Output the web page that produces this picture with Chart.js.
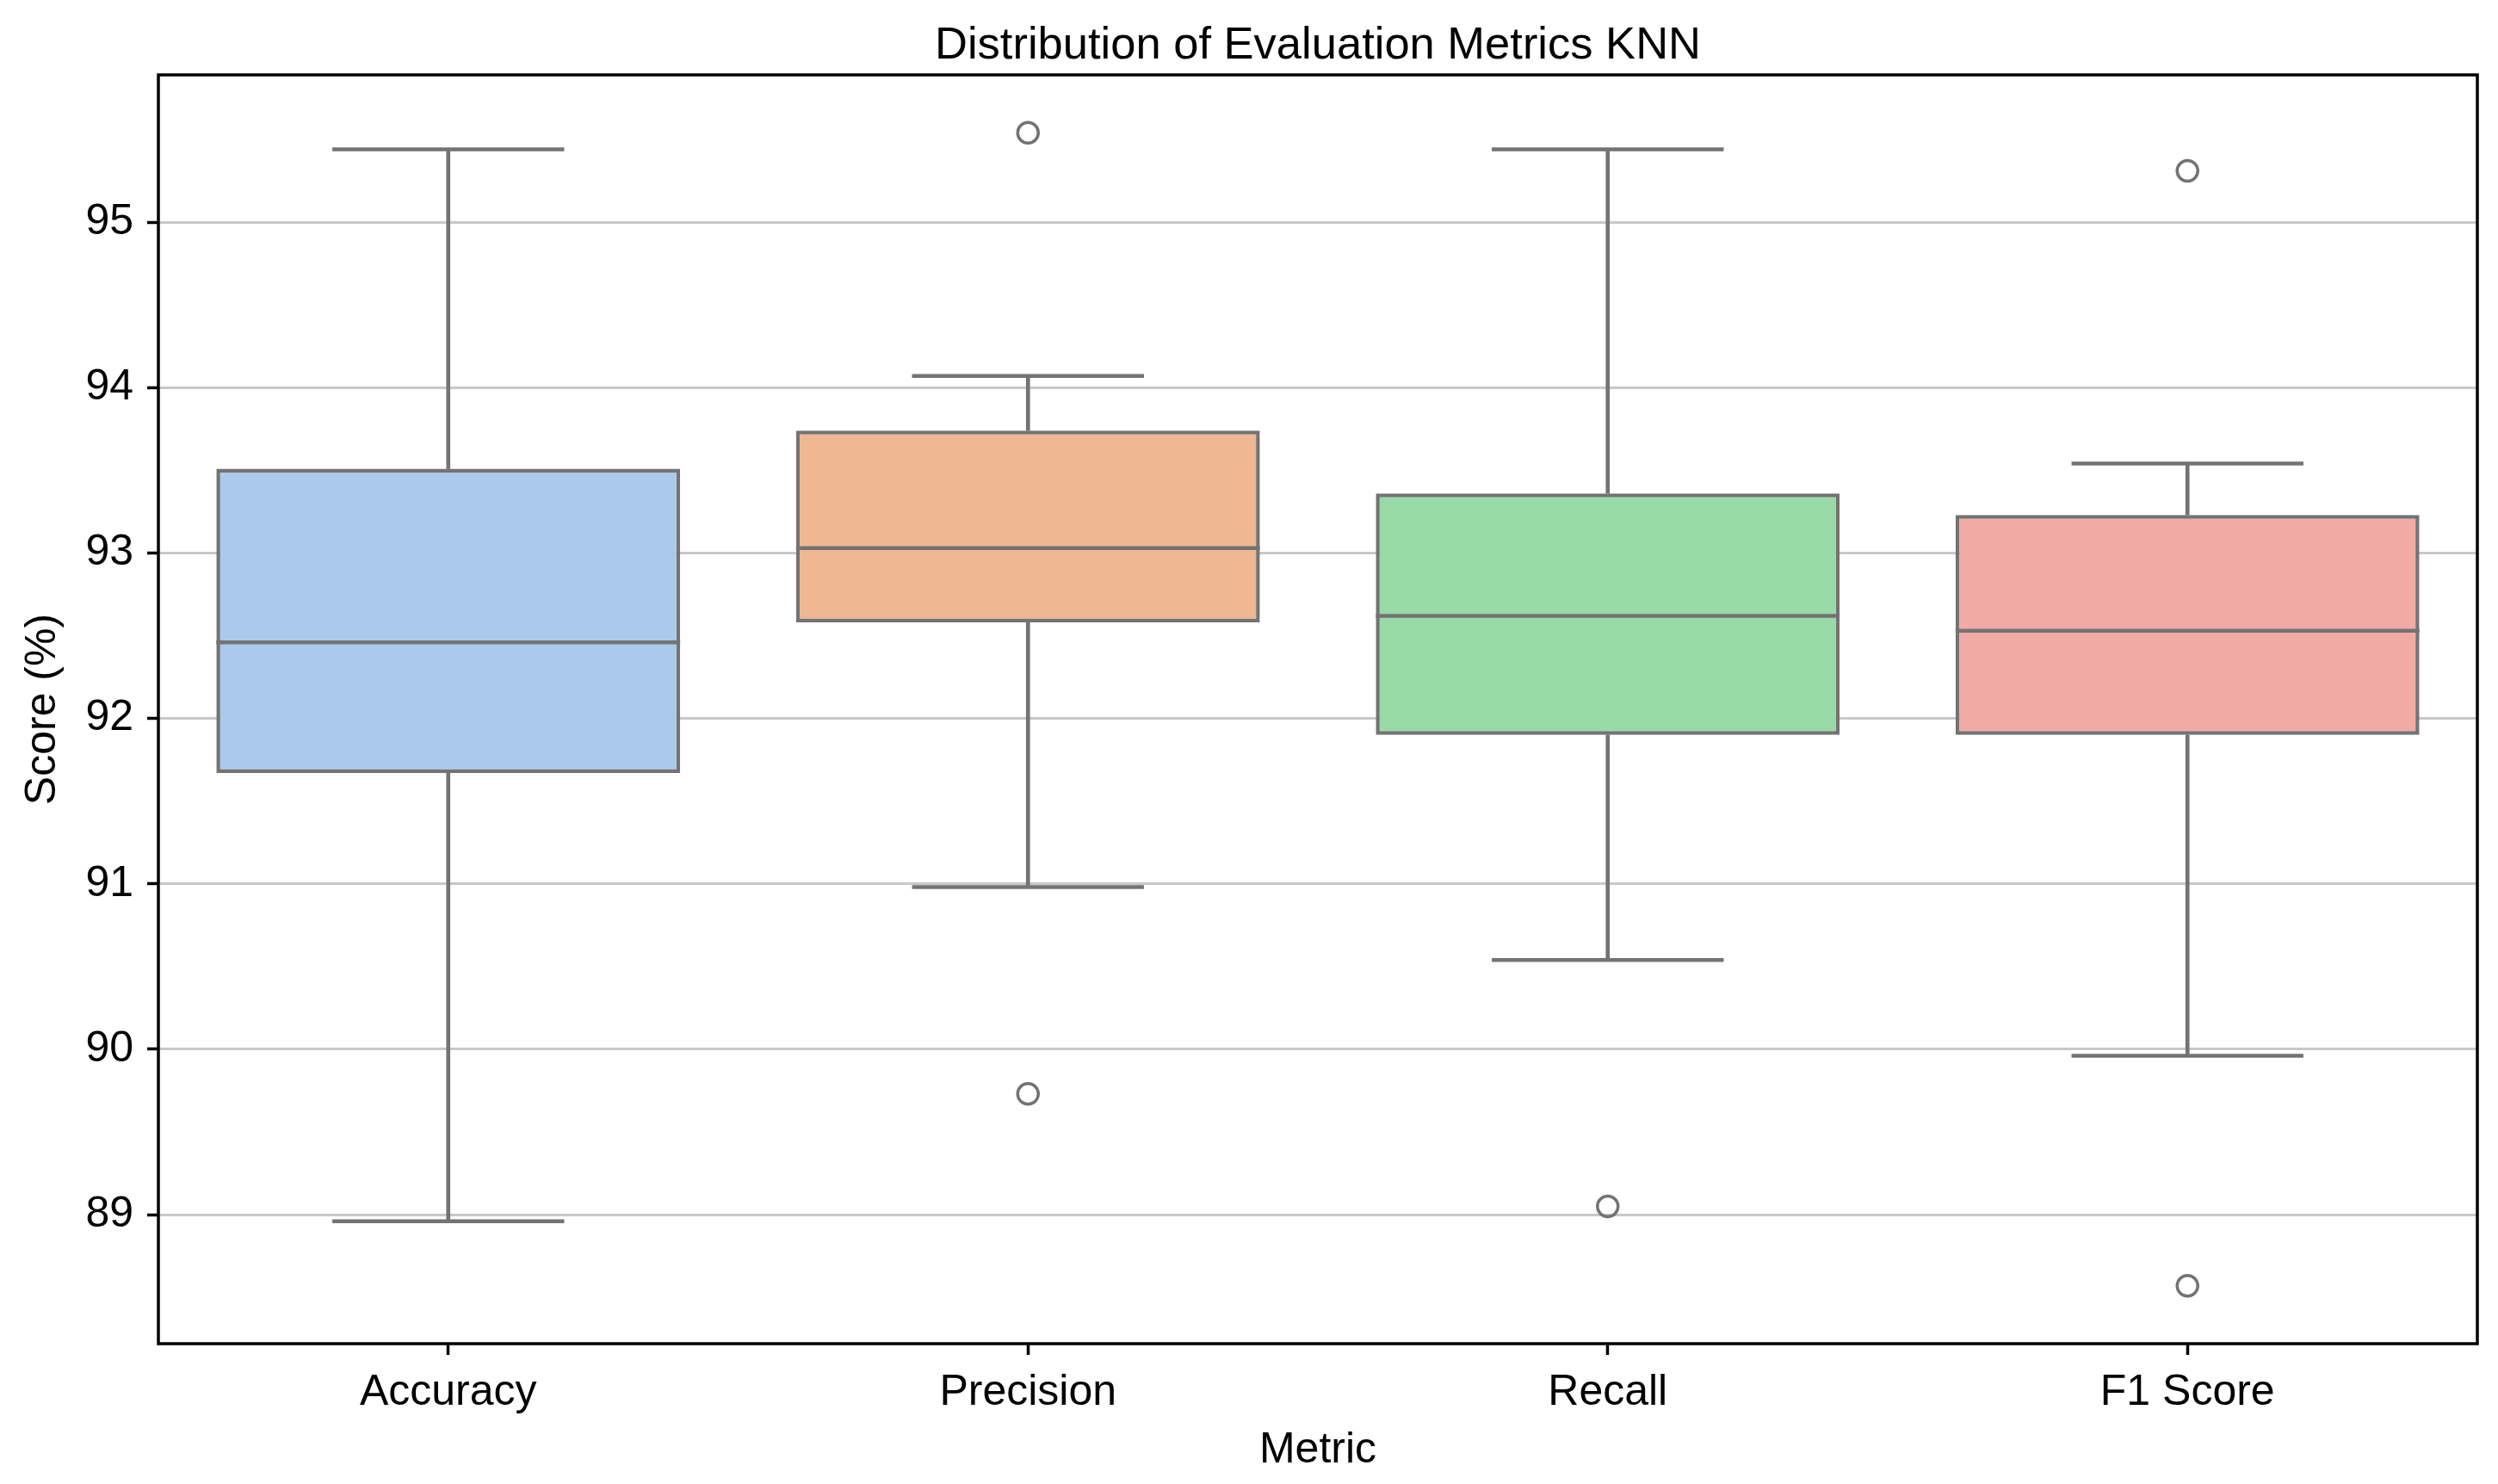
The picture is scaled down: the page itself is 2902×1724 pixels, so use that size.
<!DOCTYPE html>
<html>
<head>
<meta charset="utf-8">
<script src="https://cdn.jsdelivr.net/npm/chart.js@4"></script>
<style>
  html, body { margin: 0; padding: 0; background: #ffffff; }
  canvas { display: block; }
</style>
</head>
<body>
<canvas id="c" width="2902" height="1724" style="width:2902px;height:1724px"></canvas>
<script>
// ---- data ----
const categories   = ['Accuracy', 'Precision', 'Recall', 'F1 Score'];
const whiskerLow   = [88.96, 90.98, 90.54, 89.96];
const q1           = [91.67, 92.58, 91.90, 91.90];
const medians      = [92.46, 93.03, 92.62, 92.53];
const q3           = [93.51, 93.74, 93.36, 93.23];
const whiskerHigh  = [95.44, 94.07, 95.44, 93.54];
const outlierCats  = ['Precision', 'Precision', 'Recall', 'F1 Score', 'F1 Score'];
const outlierVals  = [95.54, 89.73, 89.05, 95.31, 88.57];
const yTicks       = [89, 90, 91, 92, 93, 94, 95];
const boxColors    = ['#abc9ea', '#efb792', '#98daa7', '#f2aaa7'];

const lineGray = '#737373';
const FONT = "'Liberation Sans', Arial, Helvetica, sans-serif";

const catWidth = ctx => ctx.chart.scales.x ? ctx.chart.scales.x.width / categories.length : 0;

const framePlugin = {
  id: 'frame',
  afterDatasetsDraw(chart) {
    const a = chart.chartArea, c = chart.ctx;
    c.save();
    c.strokeStyle = '#000';
    c.lineWidth = 3.5;
    c.strokeRect(a.left, a.top, a.right - a.left, a.bottom - a.top);
    c.restore();
  }
};

new Chart(document.getElementById('c'), {
  type: 'bar',
  data: {
    labels: categories,
    datasets: [
      { // lower whisker stems
        type: 'bar', order: 3, grouped: false,
        data: categories.map((_, i) => [whiskerLow[i], q1[i]]),
        backgroundColor: lineGray, borderWidth: 0, barThickness: 4
      },
      { // upper whisker stems
        type: 'bar', order: 3, grouped: false,
        data: categories.map((_, i) => [q3[i], whiskerHigh[i]]),
        backgroundColor: lineGray, borderWidth: 0, barThickness: 4
      },
      { // IQR boxes
        type: 'bar', order: 2, grouped: false,
        data: categories.map((_, i) => [q1[i], q3[i]]),
        backgroundColor: boxColors, borderColor: lineGray, borderWidth: 4.5,
        borderSkipped: false, barPercentage: 0.8, categoryPercentage: 1.0
      },
      { // medians
        type: 'line', order: 1, showLine: false,
        data: medians,
        pointStyle: 'line', borderColor: lineGray, borderWidth: 4.5,
        pointRadius: ctx => catWidth(ctx) * 0.4, pointHoverRadius: ctx => catWidth(ctx) * 0.4
      },
      { // whisker caps low
        type: 'line', order: 1, showLine: false,
        data: whiskerLow,
        pointStyle: 'line', borderColor: lineGray, borderWidth: 4.5,
        pointRadius: ctx => catWidth(ctx) * 0.2, pointHoverRadius: ctx => catWidth(ctx) * 0.2
      },
      { // whisker caps high
        type: 'line', order: 1, showLine: false,
        data: whiskerHigh,
        pointStyle: 'line', borderColor: lineGray, borderWidth: 4.5,
        pointRadius: ctx => catWidth(ctx) * 0.2, pointHoverRadius: ctx => catWidth(ctx) * 0.2
      },
      { // outliers
        type: 'line', order: 0, showLine: false,
        data: outlierCats.map((c, i) => ({ x: c, y: outlierVals[i] })),
        pointStyle: 'circle', pointRadius: 12, pointHoverRadius: 12,
        pointBorderWidth: 3.5, pointBorderColor: lineGray, pointBackgroundColor: 'rgba(255,255,255,0)'
      }
    ]
  },
  options: {
    responsive: false,
    devicePixelRatio: 1,
    animation: false,
    layout: { padding: { left: 0, right: 24, top: 0, bottom: 0 } },
    plugins: {
      legend: { display: false },
      tooltip: { enabled: false },
      title: {
        display: true,
        fullSize: false,
        text: 'Distribution of Evaluation Metrics KNN',
        color: '#000',
        font: { family: FONT, size: 52.5, weight: 'normal', lineHeight: 1.2 },
        padding: { top: 22, bottom: 2 }
      }
    },
    scales: {
      x: {
        type: 'category',
        offset: true,
        afterFit: s => { s.height = 163; },
        grid: { drawOnChartArea: false, drawTicks: true, offset: false, tickLength: 13, tickWidth: 3.5, tickColor: '#000' },
        border: { display: false },
        ticks: { color: '#000', padding: 14, font: { family: FONT, size: 50 } },
        title: { display: true, text: 'Metric', color: '#000', font: { family: FONT, size: 50 }, padding: { top: 0, bottom: 9 } }
      },
      y: {
        min: 88.22,
        max: 95.89,
        afterFit: s => { s.width = 184; },
        afterBuildTicks: s => { s.ticks = yTicks.map(v => ({ value: v })); },
        grid: { color: '#c8c8c8', lineWidth: 3, drawTicks: true, tickLength: 13, tickWidth: 3.5, tickColor: '#000' },
        border: { display: false },
        ticks: { color: '#000', padding: 16, font: { family: FONT, size: 50 } },
        title: { display: true, text: 'Score (%)', color: '#000', font: { family: FONT, size: 50 }, padding: { top: 20, bottom: 0 } }
      }
    }
  },
  plugins: [framePlugin]
});
</script>
</body>
</html>
